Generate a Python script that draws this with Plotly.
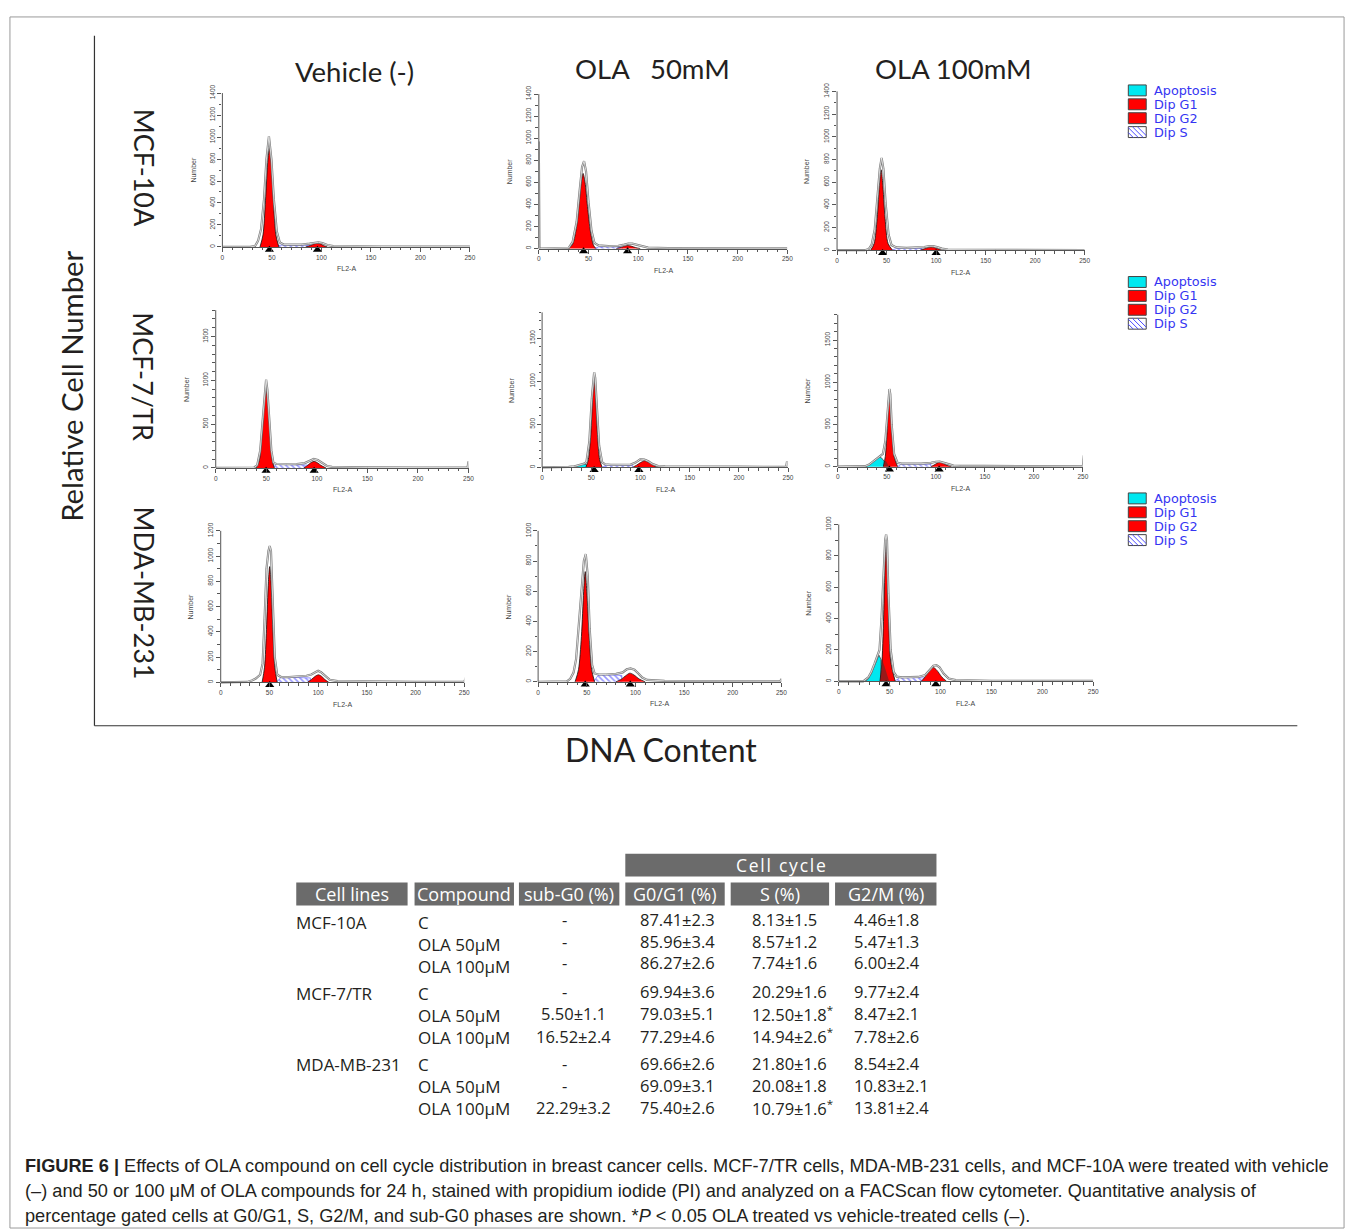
import plotly.graph_objects as go

W, H = 1358, 1232

# ---------------- data ----------------
ROW_LABELS = ["MCF-10A", "MCF-7/TR", "MDA-MB-231"]
COL_LABELS = ["Vehicle (-)", "OLA&nbsp;&nbsp;&nbsp;50mM", "OLA 100mM"]
LEGEND_ITEMS = ["Apoptosis", "Dip G1", "Dip G2", "Dip S"]
X_TICKS = [0, 50, 100, 150, 200, 250]

# y-axis maxima / label step per panel (row-major)
Y_MAX = [1400, 1400, 1400, 1800, 1800, 1800, 1200, 1000, 1000]
Y_STEP = [200, 200, 200, 500, 500, 500, 200, 200, 200]

# --- MCF-10A, vehicle
r1c1_outline_x = [0, 28, 33, 36, 39, 42, 44.5, 47, 49.5, 52, 55, 58, 62, 70, 80, 88, 93, 97, 101, 106, 112, 130, 160, 200, 250]
r1c1_outline_y = [0, 0, 8, 55, 160, 430, 800, 1005, 800, 430, 140, 40, 22, 20, 22, 30, 40, 42, 35, 18, 8, 5, 4, 3, 3]
r1c1_g1_x = [38, 41, 43.5, 46, 47.5, 49, 51.5, 54, 57]
r1c1_g1_y = [0, 110, 420, 800, 900, 800, 420, 110, 0]
r1c1_g2_x = [84, 89, 93, 96, 99, 102, 106]
r1c1_g2_y = [0, 14, 28, 34, 28, 14, 0]
r1c1_s_x = [54, 58, 65, 75, 85, 92, 92]
r1c1_s_y = [0, 15, 18, 18, 18, 15, 0]
r1c1_apo_x, r1c1_apo_y = [], []
r1c1_ov_x, r1c1_ov_y = [], []
r1c1_peaks = [47.5, 96]

# --- MCF-10A, OLA 50
r1c2_outline_x = [0, 0.6, 1.5, 25, 30, 34, 38, 41, 43.5, 45.5, 47.5, 50, 53, 56, 60, 70, 80, 86, 90, 94, 98, 104, 110, 130, 170, 250]
r1c2_outline_y = [970, 0, 0, 0, 5, 60, 240, 520, 740, 792, 700, 420, 160, 50, 28, 22, 25, 35, 45, 45, 35, 18, 8, 4, 3, 2]
r1c2_g1_x = [30, 34, 38, 41, 43, 44.5, 46.5, 49, 52, 55, 57.5]
r1c2_g1_y = [0, 40, 200, 450, 620, 681, 600, 380, 150, 30, 0]
r1c2_g2_x = [78, 83, 87, 90, 93, 97, 102]
r1c2_g2_y = [0, 12, 24, 27, 22, 10, 0]
r1c2_s_x = [56, 60, 70, 80, 84, 84]
r1c2_s_y = [0, 14, 16, 16, 14, 0]
r1c2_apo_x, r1c2_apo_y = [], []
r1c2_ov_x, r1c2_ov_y = [], []
r1c2_peaks = [45, 89.3]

# --- MCF-10A, OLA 100
r1c3_outline_x = [0, 28, 32, 35, 38, 41, 43.2, 45, 46.8, 49, 52, 55, 60, 70, 80, 88, 93, 97, 101, 106, 112, 125, 160, 250]
r1c3_outline_y = [0, 0, 10, 50, 180, 480, 720, 814, 720, 420, 140, 45, 25, 20, 22, 28, 36, 36, 28, 14, 6, 4, 3, 2]
r1c3_g1_x = [34, 37.5, 40.5, 43, 44.5, 46, 48.5, 51.5, 56]
r1c3_g1_y = [0, 60, 280, 600, 709, 600, 280, 60, 0]
r1c3_g2_x = [84, 88, 92, 95, 98, 102, 106]
r1c3_g2_y = [0, 12, 24, 28, 24, 12, 0]
r1c3_s_x = [55, 60, 70, 80, 86, 86]
r1c3_s_y = [0, 15, 17, 17, 15, 0]
r1c3_apo_x, r1c3_apo_y = [], []
r1c3_ov_x, r1c3_ov_y = [], []
r1c3_peaks = [46, 100]

# --- MCF-7/TR, vehicle
r2c1_outline_x = [0, 20, 38, 41, 44, 46.5, 48.5, 49.8, 51, 53, 55, 57, 60, 70, 80, 88, 93, 97, 101, 105, 110, 115, 125, 150, 200, 249, 250, 250.5]
r2c1_outline_y = [0, 0, 5, 30, 200, 560, 900, 1008, 900, 560, 200, 60, 45, 42, 44, 55, 85, 102, 90, 55, 22, 12, 8, 6, 4, 4, 75, 0]
r2c1_g1_x = [40, 43, 45.5, 48, 49.8, 51.5, 54, 56, 58]
r2c1_g1_y = [0, 80, 330, 750, 913, 750, 330, 80, 0]
r2c1_g2_x = [87, 91, 94, 97.3, 100.5, 104, 109]
r2c1_g2_y = [0, 30, 60, 75, 60, 30, 0]
r2c1_s_x = [56, 60, 70, 80, 90, 95, 95]
r2c1_s_y = [0, 40, 40, 38, 35, 30, 0]
r2c1_apo_x, r2c1_apo_y = [], []
r2c1_ov_x, r2c1_ov_y = [], []
r2c1_peaks = [49.8, 97.3]

# --- MCF-7/TR, OLA 50
r2c2_outline_x = [0, 20, 27, 33, 38, 42, 45, 48, 50.5, 52, 52.9, 54, 55.5, 58, 61, 64, 70, 80, 90, 95, 100, 104, 108, 112, 118, 125, 150, 200, 240, 248, 249, 249.5]
r2c2_outline_y = [0, 0, 5, 12, 25, 40, 60, 300, 800, 1040, 1104, 1040, 700, 250, 60, 35, 30, 28, 32, 55, 96, 90, 70, 40, 15, 10, 12, 8, 5, 5, 69, 0]
r2c2_g1_x = [44.5, 47, 49.5, 51.5, 52.9, 54.3, 56.3, 58.5, 61]
r2c2_g1_y = [0, 90, 380, 850, 1038, 850, 380, 90, 0]
r2c2_g2_x = [92, 96, 100, 104.4, 108.5, 113, 117]
r2c2_g2_y = [0, 25, 55, 77, 55, 25, 0]
r2c2_s_x = [61, 65, 75, 85, 92, 92]
r2c2_s_y = [0, 25, 25, 22, 20, 0]
r2c2_apo_x = [27, 32, 36, 40, 43, 45, 45.5]
r2c2_apo_y = [0, 8, 20, 32, 38, 30, 0]
r2c2_ov_x, r2c2_ov_y = [], []
r2c2_peaks = [52.9, 98.4]

# --- MCF-7/TR, OLA 100
r2c3_outline_x = [0, 20, 28, 32, 36, 40, 43, 46, 48.5, 50.5, 51.8, 52.7, 53.6, 55, 57.5, 61, 65, 75, 85, 95, 100, 104, 108, 113, 118, 125, 150, 200, 240, 250, 251, 251.5]
r2c3_outline_y = [0, 0, 5, 25, 60, 105, 125, 150, 300, 600, 860, 920, 860, 500, 150, 45, 35, 33, 35, 45, 58, 59, 50, 30, 12, 8, 8, 5, 3, 3, 137, 0]
r2c3_g1_x = [46.5, 48.5, 50.5, 51.8, 52.7, 53.6, 55, 57.5, 61]
r2c3_g1_y = [0, 120, 450, 800, 905, 800, 450, 120, 0]
r2c3_g2_x = [95, 98, 101, 104, 107, 111, 116]
r2c3_g2_y = [0, 18, 40, 51, 42, 18, 0]
r2c3_s_x = [61, 65, 75, 85, 95, 95]
r2c3_s_y = [0, 30, 32, 32, 28, 0]
r2c3_apo_x = [28, 32, 36, 40, 42.6, 45, 47.5, 47.5]
r2c3_apo_y = [0, 20, 55, 100, 114, 100, 60, 0]
r2c3_ov_x = [47.5, 49, 50.5, 52, 47.5]
r2c3_ov_y = [60, 70, 40, 0, 0]
r2c3_peaks = [52.7, 103.4]

# --- MDA-MB-231, vehicle
r3c1_outline_x = [0, 25, 27, 32, 36, 40.5, 43, 45, 47, 49, 50.3, 51.6, 53.5, 55.5, 58, 62, 70, 80, 88, 93, 97, 100, 103, 107, 112, 120, 150, 200, 250, 251.7, 252]
r3c1_outline_y = [0, 0, 3, 15, 30, 60, 150, 500, 900, 1040, 1079, 1040, 600, 200, 60, 42, 42, 45, 52, 62, 80, 92, 80, 50, 20, 10, 7, 4, 4, 39, 0]
r3c1_g1_x = [42.5, 45, 47, 49, 50.3, 51.6, 53.5, 55.5, 58]
r3c1_g1_y = [0, 120, 420, 800, 917, 800, 420, 120, 0]
r3c1_g2_x = [89, 93, 97, 100.3, 103.5, 107, 111]
r3c1_g2_y = [0, 22, 48, 60, 48, 22, 0]
r3c1_s_x = [57, 62, 70, 80, 90, 92, 92]
r3c1_s_y = [0, 40, 40, 40, 40, 35, 0]
r3c1_apo_x, r3c1_apo_y = [], []
r3c1_ov_x, r3c1_ov_y = [], []
r3c1_peaks = [50.3]

# --- MDA-MB-231, OLA 50
r3c2_outline_x = [0, 27, 29.6, 33, 36.4, 39, 42, 45, 47, 49, 51, 53, 55.5, 58, 62, 70, 80, 87, 91, 95, 99, 103, 107, 112, 120, 130, 150, 200, 249, 250, 250.5]
r3c2_outline_y = [0, 0, 2, 20, 61, 150, 380, 620, 800, 846, 700, 350, 110, 55, 48, 48, 52, 62, 82, 88, 80, 55, 28, 12, 8, 6, 5, 3, 3, 18, 0]
r3c2_g1_x = [38, 41.5, 44.5, 46.8, 48.4, 50, 52.5, 55, 58]
r3c2_g1_y = [0, 80, 300, 600, 730, 600, 300, 80, 0]
r3c2_g2_x = [80, 85, 90, 94.3, 98.5, 104, 110]
r3c2_g2_y = [0, 15, 40, 57, 45, 18, 0]
r3c2_s_x = [57, 62, 70, 80, 86, 86]
r3c2_s_y = [0, 45, 46, 46, 42, 0]
r3c2_apo_x, r3c2_apo_y = [], []
r3c2_ov_x, r3c2_ov_y = [], []
r3c2_peaks = [48.4, 94.7]

# --- MDA-MB-231, OLA 100
r3c3_outline_x = [0, 24, 29, 32, 35, 38, 40, 42, 44, 45.6, 46.5, 47.4, 48.8, 51, 54, 57, 62, 70, 78, 85, 90, 93, 96, 99, 103, 108, 115, 130, 150, 200, 250]
r3c3_outline_y = [0, 0, 25, 60, 110, 160, 200, 400, 700, 900, 937, 900, 560, 200, 60, 30, 25, 25, 28, 40, 80, 100, 103, 90, 50, 18, 8, 5, 4, 3, 3]
r3c3_g1_x = [40.5, 42.5, 44.3, 45.6, 46.5, 47.4, 48.8, 51, 55.5]
r3c3_g1_y = [0, 130, 460, 780, 880, 780, 460, 130, 0]
r3c3_g2_x = [81, 85, 89, 92.8, 96.5, 101, 106]
r3c3_g2_y = [0, 30, 70, 89, 70, 30, 0]
r3c3_s_x = [55, 60, 70, 80, 84, 84]
r3c3_s_y = [0, 25, 25, 25, 22, 0]
r3c3_apo_x = [26, 29, 32, 35, 38, 39.5, 41.5, 41.5]
r3c3_apo_y = [0, 15, 50, 100, 150, 167, 140, 0]
r3c3_ov_x = [41.5, 43, 45, 47, 49.5, 41.5]
r3c3_ov_y = [140, 130, 95, 55, 0, 0]
r3c3_peaks = [46.5, 95.4]

# --- table
CELL_LINES = ["MCF-10A", "MCF-7/TR", "MDA-MB-231"]
COMPOUNDS = ["C", "OLA 50μM", "OLA 100μM"] * 3
SUB_G0 = ["-", "-", "-", "-", "5.50±1.1", "16.52±2.4", "-", "-", "22.29±3.2"]
G0_G1 = ["87.41±2.3", "85.96±3.4", "86.27±2.6", "69.94±3.6", "79.03±5.1", "77.29±4.6", "69.66±2.6", "69.09±3.1", "75.40±2.6"]
S_PHASE = ["8.13±1.5", "8.57±1.2", "7.74±1.6", "20.29±1.6", "12.50±1.8*", "14.94±2.6*", "21.80±1.6", "20.08±1.8", "10.79±1.6*"]
G2_M = ["4.46±1.8", "5.47±1.3", "6.00±2.4", "9.77±2.4", "8.47±2.1", "7.78±2.6", "8.54±2.4", "10.83±2.1", "13.81±2.4"]
HEADERS = ["Cell lines", "Compound", "sub-G0 (%)", "G0/G1 (%)", "S (%)", "G2/M (%)"]
SUPER_HEADER = "Cell cycle"

CAPTION = [
    "<b>FIGURE 6 |</b> Effects of OLA compound on cell cycle distribution in breast cancer cells. MCF-7/TR cells, MDA-MB-231 cells, and MCF-10A were treated with vehicle",
    "(–) and 50 or 100 μM of OLA compounds for 24 h, stained with propidium iodide (PI) and analyzed on a FACScan flow cytometer. Quantitative analysis of",
    "percentage gated cells at G0/G1, S, G2/M, and sub-G0 phases are shown. *<i>P</i> &lt; 0.05 OLA treated vs vehicle-treated cells (–).",
]

# ---------------- layout geometry (pixels) ----------------
# (left = x 0, right = x 250, top = y max, bottom = y 0)
PANEL_BOX = [
    (221.7, 470.7, 84.7, 239.7), (540, 790, 85.7, 241.3), (840, 1089, 83, 243),
    (215, 469.3, 303.4, 462.3), (543.3, 790.7, 305.6, 461.7), (840.7, 1087.3, 308, 461),
    (220, 465, 525.7, 678.3), (539.3, 784, 525.7, 677.7), (841.7, 1097.7, 519.3, 677.3),
]
BELOW = 6.0       # px of y-range kept below zero so the peak markers stay in range
MARK_OFF = 2.8    # px below the baseline for the peak markers

PANEL_NAMES = ["r1c1", "r1c2", "r1c3", "r2c1", "r2c2", "r2c3", "r3c1", "r3c2", "r3c3"]
G = globals()

TXT = "#231f20"
AX = "#555555"
FCS_FONT = "Liberation Sans, Arial, sans-serif"
MAIN_FONT = "Lato, Open Sans, sans-serif"
TAB_FONT = "Open Sans, Lato, sans-serif"


def px(x):
    return x / W


def py(y):
    return 1 - y / H


def note(x, y, text, size, color=TXT, family=MAIN_FONT, xanchor="center", angle=0,
         xref="paper", pad=1):
    return dict(x=x, y=py(y), xref=xref, yref="paper", text=text, showarrow=False,
                xanchor=xanchor, yanchor="middle", textangle=angle, borderpad=pad,
                font=dict(size=size, color=color, family=family))


fig = go.Figure()
annotations = []
shapes = []

for k, name in enumerate(PANEL_NAMES, start=1):
    L, R, T, B = PANEL_BOX[k - 1]
    xa = "x" if k == 1 else f"x{k}"
    ya = "y" if k == 1 else f"y{k}"
    ymax = Y_MAX[k - 1]
    upp = ymax / (B - T)  # data units per pixel
    common = dict(xaxis=xa, yaxis=ya, showlegend=False, hoverinfo="skip")

    fig.add_trace(go.Scatter(
        x=G[name + "_s_x"], y=G[name + "_s_y"], mode="lines", fill="toself",
        fillcolor="white",
        fillpattern=dict(shape="\\", fgcolor="#3030ff", bgcolor="white", size=4, solidity=0.4),
        line=dict(color="#5050ff", width=0.6), **common))
    if G[name + "_apo_x"]:
        fig.add_trace(go.Scatter(
            x=G[name + "_apo_x"], y=G[name + "_apo_y"], mode="lines", fill="toself",
            fillcolor="#00e8f0", line=dict(color="#333333", width=0.7), **common))
    fig.add_trace(go.Scatter(
        x=G[name + "_g1_x"], y=G[name + "_g1_y"], mode="lines", fill="toself",
        fillcolor="#ff0000", line=dict(color="#111111", width=0.8, shape="spline", smoothing=0.8),
        **common))
    fig.add_trace(go.Scatter(
        x=G[name + "_g2_x"], y=G[name + "_g2_y"], mode="lines", fill="toself",
        fillcolor="#ff0000", line=dict(color="#111111", width=0.7, shape="spline", smoothing=0.8),
        **common))
    if G[name + "_ov_x"]:
        fig.add_trace(go.Scatter(
            x=G[name + "_ov_x"], y=G[name + "_ov_y"], mode="lines", fill="toself",
            fillcolor="rgba(70,45,45,0.55)", line=dict(width=0), **common))
    # raw histogram drawn as a hollow (double) grey line
    fig.add_trace(go.Scatter(
        x=G[name + "_outline_x"], y=G[name + "_outline_y"], mode="lines",
        line=dict(color="#7a7a7a", width=2.2), **common))
    fig.add_trace(go.Scatter(
        x=G[name + "_outline_x"], y=G[name + "_outline_y"], mode="lines",
        line=dict(color="white", width=0.7), **common))
    peaks = G[name + "_peaks"]
    fig.add_trace(go.Scatter(
        x=peaks, y=[-MARK_OFF * upp] * len(peaks), mode="markers",
        marker=dict(symbol="triangle-up", size=8, color="black", line=dict(width=0)),
        cliponaxis=False, **common))

    xkey = "xaxis" if k == 1 else f"xaxis{k}"
    ykey = "yaxis" if k == 1 else f"yaxis{k}"
    fig.layout[xkey] = dict(
        domain=[px(L), px(R)], range=[0, 250], anchor="free", position=py(B),
        showline=True, linecolor=AX, linewidth=1, ticks="outside", ticklen=4,
        tickwidth=1, tickcolor=AX, tickvals=X_TICKS,
        tickfont=dict(size=6.5, color="#444", family=FCS_FONT),
        minor=dict(ticks="outside", ticklen=2.5, dtick=10, tick0=0, tickcolor=AX, tickwidth=0.8),
        showgrid=False, zeroline=False, fixedrange=True)
    fig.layout[ykey] = dict(
        domain=[py(B + BELOW), py(T)], range=[-BELOW * upp, ymax], anchor=xa,
        showline=False, ticks="outside", ticklen=4,
        tickwidth=1, tickcolor=AX, dtick=Y_STEP[k - 1], tick0=0, tickangle=-90,
        tickfont=dict(size=6.5, color="#444", family=FCS_FONT),
        minor=dict(ticks="outside", ticklen=2.5, dtick=100, tick0=0, tickcolor=AX, tickwidth=0.8),
        showgrid=False, zeroline=False, fixedrange=True)
    # y-axis line from 0 to the top only (like the reference)
    shapes.append(dict(type="line", xref="paper", yref="paper", x0=px(L), x1=px(L),
                       y0=py(B), y1=py(T), line=dict(color=AX, width=1)))

    annotations.append(note(px(L - 30), (T + B) / 2, "Number", 7, "#444", FCS_FONT, angle=-90))
    annotations.append(note(125, B + 22, "FL2-A", 7, "#444", FCS_FONT, xref=xa))

# column titles
for txt, cx, cy in zip(COL_LABELS, [355, 654, 957], [63, 60, 60]):
    annotations.append(note(px(cx), cy, txt, 27.5))
# row titles
for txt, cy in zip(ROW_LABELS, [160, 370, 588]):
    annotations.append(note(px(143), cy, txt, 27, angle=90))
annotations.append(note(px(70), 380, "Relative Cell Number", 29.3, angle=-90))
annotations.append(note(px(663), 746, "DNA Content", 32))

# frame and border
shapes.append(dict(type="rect", xref="paper", yref="paper", x0=px(8), x1=px(1350),
                   y0=py(1228), y1=py(8), line=dict(color="#9a9a9a", width=1)))
shapes.append(dict(type="line", xref="paper", yref="paper", x0=px(93), x1=px(93),
                   y0=py(27), y1=py(722), line=dict(color="#333", width=1.2)))
shapes.append(dict(type="line", xref="paper", yref="paper", x0=px(93), x1=px(1303),
                   y0=py(722), y1=py(722), line=dict(color="#333", width=1.2)))

# legends (one per row)
LEG_COLORS = ["#00e8f0", "#ff0000", "#ff0000", None]
for top in [82, 275, 493]:
    for i, (lab, col) in enumerate(zip(LEGEND_ITEMS, LEG_COLORS)):
        cy = top + 14 * i
        x0, x1, y0, y1 = 1133, 1151, cy - 5.5, cy + 5.5
        shapes.append(dict(type="rect", xref="paper", yref="paper",
                           x0=px(x0), x1=px(x1), y0=py(y1), y1=py(y0),
                           fillcolor=col if col else "white",
                           line=dict(color="#444", width=1)))
        if col is None:
            for s in [-6, -1, 4, 9]:
                a0, a1 = max(x0 + s, x0), min(x0 + s + 11, x1)
                b0 = y0 + (a0 - (x0 + s))
                b1 = y0 + (a1 - (x0 + s))
                shapes.append(dict(type="line", xref="paper", yref="paper",
                                   x0=px(a0), x1=px(a1), y0=py(b0), y1=py(b1),
                                   line=dict(color="#4a4aff", width=1)))
        annotations.append(note(px(1158), cy, lab, 12.8, "#3535f2", "DejaVu Sans, sans-serif",
                                xanchor="left", pad=0))

# table headers
HDR = "#6b6b6b"
shapes.append(dict(type="rect", xref="paper", yref="paper", x0=px(627), x1=px(940),
                   y0=py(874), y1=py(851), fillcolor=HDR, line=dict(width=0)))
annotations.append(note(px(784), 862.5, "\u200a".join(SUPER_HEADER), 17.5, "white", TAB_FONT))
HDR_X = [(296, 408), (415, 515), (520, 621), (627, 727), (733, 832), (838, 940)]
for txt, (a, b) in zip(HEADERS, HDR_X):
    shapes.append(dict(type="rect", xref="paper", yref="paper", x0=px(a), x1=px(b),
                       y0=py(903), y1=py(880), fillcolor=HDR, line=dict(width=0)))
    annotations.append(note(px((a + b) / 2), 891.5, txt, 18, "white", TAB_FONT, pad=0))

ROW_Y_LAB = [920, 942.5, 965, 991.5, 1013.5, 1036, 1063, 1085.5, 1108]
ROW_Y_VAL = [917, 939, 961, 990, 1012, 1035, 1062, 1084, 1107]
TS = 16.5
LS = 17
for g, cl in enumerate(CELL_LINES):
    annotations.append(note(px(295), ROW_Y_LAB[3 * g], cl, LS, TXT, TAB_FONT, xanchor="left", pad=0))
for i in range(9):
    annotations.append(note(px(417), ROW_Y_LAB[i], COMPOUNDS[i], LS, TXT, TAB_FONT,
                            xanchor="left", pad=0))
    sg = SUB_G0[i]
    annotations.append(note(px(566 if sg == "-" else 575), ROW_Y_VAL[i], sg, TS, TXT, TAB_FONT, pad=0))
    for col, x0 in [(G0_G1, 641), (S_PHASE, 753), (G2_M, 856)]:
        annotations.append(note(px(x0), ROW_Y_VAL[i], col[i].replace("*", "<sup>*</sup>"),
                                TS, TXT, TAB_FONT, xanchor="left", pad=0))

# caption
for line, cy in zip(CAPTION, [1166, 1191, 1216]):
    annotations.append(note(px(22), cy, line, 18.2, TXT, "Liberation Sans, Arial, sans-serif",
                            xanchor="left", pad=0))

fig.update_layout(
    width=W, height=H, margin=dict(l=0, r=0, t=0, b=0),
    paper_bgcolor="white", plot_bgcolor="rgba(0,0,0,0)",
    annotations=annotations, shapes=shapes, showlegend=False,
)

fig.write_html("out.html")
